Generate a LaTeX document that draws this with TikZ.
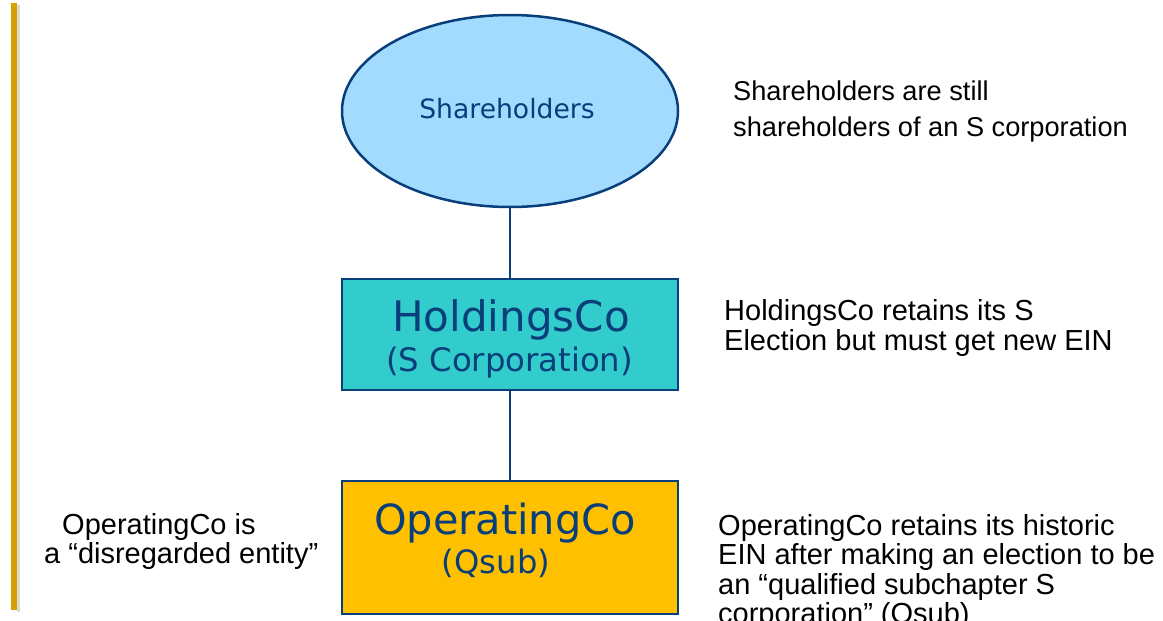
\documentclass[tikz,border=0pt]{standalone}
\usepackage{fontspec}
\setmainfont{Liberation Sans}
\newfontfamily\boxfont{DejaVu Sans}
\usetikzlibrary{shapes.geometric}

\definecolor{edgeblue}{RGB}{8,62,122}
\definecolor{skyfill}{RGB}{163,219,255}
\definecolor{tealfill}{RGB}{51,204,204}
\definecolor{goldfill}{RGB}{255,192,0}
\definecolor{barcolor}{RGB}{214,160,0}

\tikzset{
  entity/.style={draw=edgeblue, line width=2.5pt, inner sep=0pt},
  entitytext/.style={text=edgeblue, inner sep=0pt, anchor=base},
  link/.style={draw=edgeblue, line width=2pt},
  note/.style={text=black, inner sep=0pt, anchor=base west},
}

\begin{document}
\begin{tikzpicture}[x=1pt, y=-1pt]
  \useasboundingbox (0,0) rectangle (1163,621);

  % vertical accent bar with a soft shadow
  \fill[black!25, opacity=0.6] (17,5) rectangle (20,612);
  \fill[barcolor] (11,3) rectangle (17,610);

  % entities
  \node[entity, ellipse, fill=skyfill, minimum width=336pt, minimum height=192pt] (sh) at (510,111) {};
  \node[entity, rectangle, fill=tealfill, minimum width=336pt, minimum height=111pt] (hc) at (510,334.5) {};
  \node[entity, rectangle, fill=goldfill, minimum width=336pt, minimum height=133pt] (oc) at (510,547.5) {};

  % connectors
  \draw[link] (sh.south) -- (hc.north);
  \draw[link] (hc.south) -- (oc.north);

  % entity labels
  \node[entitytext, font=\boxfont\fontsize{26.6}{30}\selectfont] (sh-name) at (507,118) {Shareholders};
  \node[entitytext, font=\boxfont\fontsize{42}{46}\selectfont] (hc-name) at (511,331) {HoldingsCo};
  \node[entitytext, font=\boxfont\fontsize{32.3}{36}\selectfont] (hc-kind) at (509.5,371) {(S Corporation)};
  \node[entitytext, font=\boxfont\fontsize{41.5}{46}\selectfont] (oc-name) at (505,534) {OperatingCo};
  \node[entitytext, font=\boxfont\fontsize{32.2}{36}\selectfont] (oc-kind) at (496,573) {(Qsub)};

  % side notes
  \node[note, font=\fontsize{27.2}{36}\selectfont] (sh-note) at (733,100)
    {\vtop{\hbox{Shareholders are still}\hbox{shareholders of an S corporation}}};
  \node[note, font=\fontsize{29}{30}\selectfont] (hc-note) at (724,320)
    {\vtop{\hbox{HoldingsCo retains its S}\hbox{Election but must get new EIN}}};
  \node[note, font=\fontsize{29}{29.5}\selectfont] (oc-note) at (718,535)
    {\vtop{\hbox{OperatingCo retains its historic}\hbox{EIN after making an election to be}\hbox{an “qualified subchapter S}\hbox{corporation” (Qsub)}}};
  \node[note, font=\fontsize{29}{29.5}\selectfont] (oc-left) at (44,534)
    {\vtop{\hbox{\hspace*{18pt}OperatingCo is}\hbox{a “disregarded entity”}}};
\end{tikzpicture}
\end{document}
